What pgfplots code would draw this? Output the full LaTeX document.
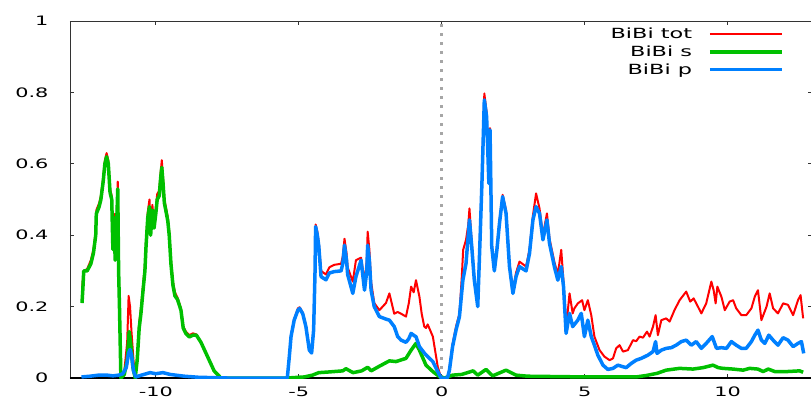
\documentclass[border=0pt]{standalone}
\usepackage{pgfplots}
\pgfplotsset{compat=1.18}
\usepackage{fontspec}
\setmainfont{DejaVu Sans}[FakeStretch=1.6]
\definecolor{gpred}{RGB}{255,0,0}
\definecolor{gpgreen}{RGB}{0,192,0}
\definecolor{gpblue}{RGB}{0,128,255}
\definecolor{baseline}{RGB}{170,10,10}
\begin{document}
\begin{tikzpicture}[x=1pt,y=1pt]
\useasboundingbox (0,0) rectangle (811,402);
\begin{axis}[
  at={(70pt,24pt)}, anchor=south west,
  scale only axis, width=742pt, height=357pt,
  xmin=-13, xmax=12.95, ymin=0, ymax=1,
  xtick={-10,-5,0,5,10}, xticklabels={-10,-5,0,5,10},
  ytick={0,0.2,0.4,0.6,0.8,1}, yticklabels={0,0.2,0.4,0.6,0.8,1},
  tick align=inside, major tick length=4pt,
  xtick pos=both, ytick pos=both,
  axis line style={black!80, line width=0.9pt},
  tick style={black!80, line width=0.8pt},
  ticklabel style={font=\fontsize{13}{15}\selectfont},
  yticklabel style={anchor=east, xshift=-18pt},
  xticklabel style={anchor=north, yshift=-5pt},
  legend cell align=right,
  legend plot pos=right,
  legend style={draw=none, fill=none, at={(axis description cs:0.962,0.986)}, anchor=north east,
    font=\fontsize{14}{16}\selectfont, row sep=1.5pt, inner sep=0pt,
    /tikz/every odd column/.append style={column sep=14pt}},
  legend image code/.code={\draw[#1] (0pt,0pt) -- (72pt,0pt);},
  every axis plot/.append style={line join=round},
]
% zero line and Fermi level
\addplot[forget plot, baseline, line width=1.5pt] coordinates {(-13,0) (13,0)};
\addplot[forget plot, black!35, line width=2.6pt, dash pattern=on 2.6pt off 6.4pt] coordinates {(0,0) (0,1)};
% total
\addplot[gpred, line width=2pt] coordinates {
(-12.58,0.25) (-12.52,0.30) (-12.4,0.305) (-12.27,0.33) (-12.18,0.36) (-12.1,0.41) (-12.08,0.47) (-11.98,0.49) (-11.92,0.51) (-11.84,0.56) (-11.78,0.61) (-11.72,0.63) (-11.66,0.61) (-11.6,0.53) (-11.54,0.51) (-11.5,0.37) (-11.46,0.46) (-11.42,0.34) (-11.38,0.41) (-11.33,0.55) (-11.3,0.31) (-11.27,0.21) (-11.22,0.01) (-11.1,0.02) (-11.0,0.10) (-10.95,0.23) (-10.9,0.20) (-10.85,0.13) (-10.78,0.05) (-10.72,0.003) (-10.65,0.06) (-10.58,0.155) (-10.52,0.195) (-10.44,0.265) (-10.38,0.315) (-10.34,0.385) (-10.28,0.465) (-10.22,0.50) (-10.18,0.415) (-10.12,0.485) (-10.06,0.435) (-10.0,0.475) (-9.95,0.515) (-9.88,0.525) (-9.83,0.575) (-9.79,0.61) (-9.75,0.565) (-9.7,0.50) (-9.65,0.48) (-9.58,0.45) (-9.53,0.41) (-9.47,0.33) (-9.4,0.27) (-9.33,0.24) (-9.24,0.225) (-9.12,0.195) (-9.04,0.145) (-8.95,0.13) (-8.83,0.12) (-8.7,0.125) (-8.58,0.122) (-8.42,0.10) (-8.19,0.06) (-7.96,0.02) (-7.72,0.0) (-5.4,0)
(-5.33,0.06) (-5.27,0.12) (-5.16,0.165) (-5.03,0.195) (-4.97,0.198) (-4.86,0.183) (-4.75,0.147) (-4.63,0.082) (-4.55,0.077) (-4.48,0.14) (-4.43,0.31) (-4.41,0.43) (-4.35,0.41) (-4.3,0.38) (-4.22,0.30) (-4.05,0.29) (-3.93,0.31) (-3.76,0.317) (-3.52,0.32) (-3.46,0.34) (-3.4,0.39) (-3.33,0.35) (-3.29,0.31) (-3.11,0.27) (-3.0,0.33) (-2.82,0.337) (-2.7,0.27) (-2.62,0.33) (-2.59,0.41) (-2.53,0.36) (-2.47,0.27) (-2.36,0.21) (-2.18,0.19) (-1.95,0.21) (-1.83,0.237) (-1.72,0.20) (-1.66,0.18) (-1.54,0.185) (-1.42,0.18) (-1.25,0.172) (-1.15,0.21) (-1.07,0.256) (-0.98,0.24) (-0.9,0.274) (-0.78,0.228) (-0.7,0.18) (-0.61,0.144) (-0.55,0.14) (-0.49,0.15) (-0.31,0.116) (-0.14,0.032) (-0.02,0.0) (0.2,0.0)
(0.27,0.025) (0.38,0.095) (0.5,0.144) (0.62,0.18) (0.7,0.28) (0.75,0.359) (0.85,0.387) (0.93,0.43) (0.97,0.475) (1.05,0.38) (1.14,0.28) (1.26,0.205) (1.34,0.40) (1.41,0.565) (1.49,0.797) (1.57,0.745) (1.65,0.55) (1.69,0.70) (1.75,0.375) (1.84,0.305) (1.93,0.365) (2.02,0.44) (2.13,0.513) (2.25,0.47) (2.37,0.32) (2.49,0.245) (2.6,0.295) (2.72,0.326) (2.95,0.312) (3.07,0.36) (3.19,0.455) (3.3,0.517) (3.42,0.475) (3.54,0.40) (3.68,0.461) (3.77,0.39) (3.94,0.325) (4.06,0.29) (4.18,0.359) (4.26,0.27) (4.35,0.14) (4.47,0.237) (4.58,0.181) (4.64,0.195) (4.76,0.209) (4.91,0.218) (4.99,0.19) (5.11,0.218) (5.23,0.176) (5.34,0.116) (5.52,0.078) (5.69,0.06) (5.87,0.05) (5.99,0.055) (6.1,0.083) (6.22,0.092) (6.34,0.074) (6.51,0.078) (6.69,0.106) (6.8,0.103) (6.92,0.116) (7.04,0.113) (7.18,0.13) (7.27,0.116) (7.39,0.144) (7.48,0.176) (7.56,0.12) (7.68,0.162) (7.85,0.167) (7.97,0.158) (8.14,0.19) (8.32,0.218) (8.55,0.242) (8.69,0.214) (8.81,0.223) (8.96,0.2) (9.08,0.181) (9.25,0.209) (9.43,0.27) (9.51,0.246) (9.58,0.209) (9.64,0.256) (9.78,0.228) (9.9,0.19) (10.07,0.214) (10.19,0.218) (10.3,0.195) (10.48,0.176) (10.65,0.176) (10.83,0.195) (10.95,0.228) (11.06,0.246) (11.18,0.162) (11.36,0.2) (11.47,0.237) (11.59,0.195) (11.76,0.181) (11.94,0.209) (12.11,0.205) (12.29,0.176) (12.46,0.218) (12.55,0.232) (12.64,0.167)
};
\addlegendentry{BiBi tot}
% s
\addplot[gpgreen, line width=3.5pt] coordinates {
(-12.58,0.21) (-12.55,0.25) (-12.52,0.30) (-12.4,0.30) (-12.27,0.32) (-12.18,0.35) (-12.1,0.40) (-12.08,0.46) (-11.98,0.48) (-11.92,0.50) (-11.84,0.55) (-11.78,0.60) (-11.72,0.62) (-11.66,0.60) (-11.6,0.52) (-11.54,0.50) (-11.5,0.36) (-11.46,0.45) (-11.42,0.33) (-11.38,0.40) (-11.33,0.53) (-11.3,0.30) (-11.27,0.2) (-11.22,0.0) (-11.1,0.01) (-11.0,0.05) (-10.93,0.13) (-10.88,0.10) (-10.8,0.03) (-10.72,0.0) (-10.65,0.05) (-10.58,0.14) (-10.52,0.18) (-10.44,0.25) (-10.38,0.30) (-10.34,0.37) (-10.28,0.45) (-10.22,0.48) (-10.18,0.40) (-10.12,0.47) (-10.06,0.42) (-10.0,0.46) (-9.95,0.50) (-9.88,0.51) (-9.83,0.56) (-9.79,0.59) (-9.75,0.55) (-9.7,0.49) (-9.65,0.47) (-9.58,0.44) (-9.53,0.40) (-9.47,0.32) (-9.4,0.26) (-9.33,0.23) (-9.24,0.22) (-9.12,0.19) (-9.04,0.14) (-8.95,0.125) (-8.83,0.115) (-8.7,0.12) (-8.58,0.12) (-8.42,0.10) (-8.19,0.06) (-7.96,0.02) (-7.72,0.0) (-5.4,0.0) (-4.8,0.003) (-4.52,0.008) (-4.3,0.015) (-3.93,0.017) (-3.46,0.02) (-3.35,0.026) (-3.1,0.015) (-2.8,0.02) (-2.59,0.03) (-2.47,0.02) (-2.18,0.033) (-1.83,0.048) (-1.6,0.046) (-1.25,0.055) (-1.07,0.078) (-0.9,0.097) (-0.78,0.078) (-0.55,0.036) (-0.31,0.018) (-0.08,0.004) (0.1,0) (0.38,0.008) (0.7,0.01) (1.1,0.02) (1.26,0.008) (1.55,0.024) (1.78,0.006) (2.25,0.022) (2.6,0.008) (3.0,0.005) (4.0,0.004) (5.0,0.003) (6.0,0.003) (6.8,0.003) (7.15,0.007) (7.53,0.013) (7.85,0.022) (8.32,0.027) (8.79,0.025) (9.14,0.029) (9.49,0.036) (9.67,0.029) (9.84,0.027) (10.19,0.025) (10.54,0.022) (10.77,0.027) (11.06,0.025) (11.24,0.018) (11.42,0.025) (11.65,0.018) (12.06,0.018) (12.52,0.02) (12.64,0.016)
};
\addlegendentry{BiBi s}
% p
\addplot[gpblue, line width=3.5pt] coordinates {
(-12.6,0.003) (-12.3,0.005) (-12.0,0.008) (-11.7,0.008) (-11.5,0.006) (-11.3,0.008) (-11.15,0.012) (-11.03,0.03) (-10.95,0.07) (-10.9,0.08) (-10.85,0.065) (-10.78,0.02) (-10.7,0.003) (-10.5,0.008) (-10.2,0.015) (-10.0,0.012) (-9.75,0.015) (-9.5,0.01) (-9.0,0.005) (-8.5,0.002) (-8.0,0.001) (-7.5,0) (-5.4,0) (-5.33,0.06) (-5.27,0.116) (-5.16,0.162) (-5.03,0.19) (-4.97,0.195) (-4.86,0.18) (-4.75,0.144) (-4.63,0.078) (-4.55,0.07) (-4.48,0.134) (-4.43,0.30) (-4.41,0.424) (-4.35,0.40) (-4.3,0.37) (-4.22,0.284) (-4.05,0.275) (-3.93,0.294) (-3.76,0.298) (-3.52,0.30) (-3.46,0.32) (-3.4,0.372) (-3.33,0.33) (-3.29,0.29) (-3.11,0.237) (-3.0,0.284) (-2.82,0.33) (-2.7,0.246) (-2.62,0.30) (-2.59,0.372) (-2.53,0.33) (-2.47,0.246) (-2.36,0.20) (-2.18,0.172) (-1.95,0.165) (-1.83,0.162) (-1.66,0.144) (-1.54,0.116) (-1.42,0.106) (-1.25,0.10) (-1.15,0.11) (-1.07,0.125) (-0.95,0.118) (-0.9,0.116) (-0.78,0.088) (-0.61,0.07) (-0.49,0.06) (-0.31,0.046) (-0.14,0.018) (-0.02,0.0) (0.2,0.0) (0.27,0.022) (0.38,0.088) (0.5,0.134) (0.62,0.172) (0.74,0.274) (0.85,0.321) (0.97,0.443) (1.05,0.368) (1.14,0.274) (1.26,0.20) (1.34,0.387) (1.41,0.555) (1.49,0.779) (1.57,0.732) (1.65,0.545) (1.69,0.695) (1.75,0.368) (1.84,0.30) (1.93,0.359) (2.02,0.433) (2.13,0.508) (2.25,0.461) (2.37,0.312) (2.49,0.237) (2.6,0.284) (2.72,0.312) (2.95,0.30) (3.07,0.349) (3.19,0.443) (3.3,0.48) (3.42,0.461) (3.54,0.387) (3.68,0.443) (3.77,0.377) (3.94,0.312) (4.06,0.274) (4.18,0.312) (4.26,0.256) (4.35,0.125) (4.47,0.181) (4.58,0.144) (4.76,0.162) (4.88,0.181) (4.99,0.116) (5.11,0.162) (5.23,0.116) (5.34,0.092) (5.46,0.064) (5.64,0.036) (5.81,0.024) (5.99,0.027) (6.16,0.036) (6.28,0.033) (6.45,0.029) (6.63,0.041) (6.8,0.05) (6.98,0.055) (7.21,0.064) (7.39,0.074) (7.48,0.102) (7.53,0.069) (7.68,0.078) (7.85,0.083) (8.03,0.085) (8.2,0.092) (8.38,0.102) (8.55,0.106) (8.73,0.092) (8.9,0.102) (9.08,0.083) (9.25,0.097) (9.46,0.116) (9.61,0.083) (9.78,0.085) (9.96,0.083) (10.13,0.102) (10.3,0.092) (10.48,0.083) (10.65,0.083) (10.83,0.102) (10.95,0.12) (11.06,0.134) (11.18,0.106) (11.3,0.097) (11.44,0.12) (11.59,0.106) (11.76,0.092) (11.94,0.113) (12.11,0.106) (12.29,0.088) (12.46,0.097) (12.58,0.102) (12.66,0.069)
};
\addlegendentry{BiBi p}
\end{axis}
\end{tikzpicture}
\end{document}
